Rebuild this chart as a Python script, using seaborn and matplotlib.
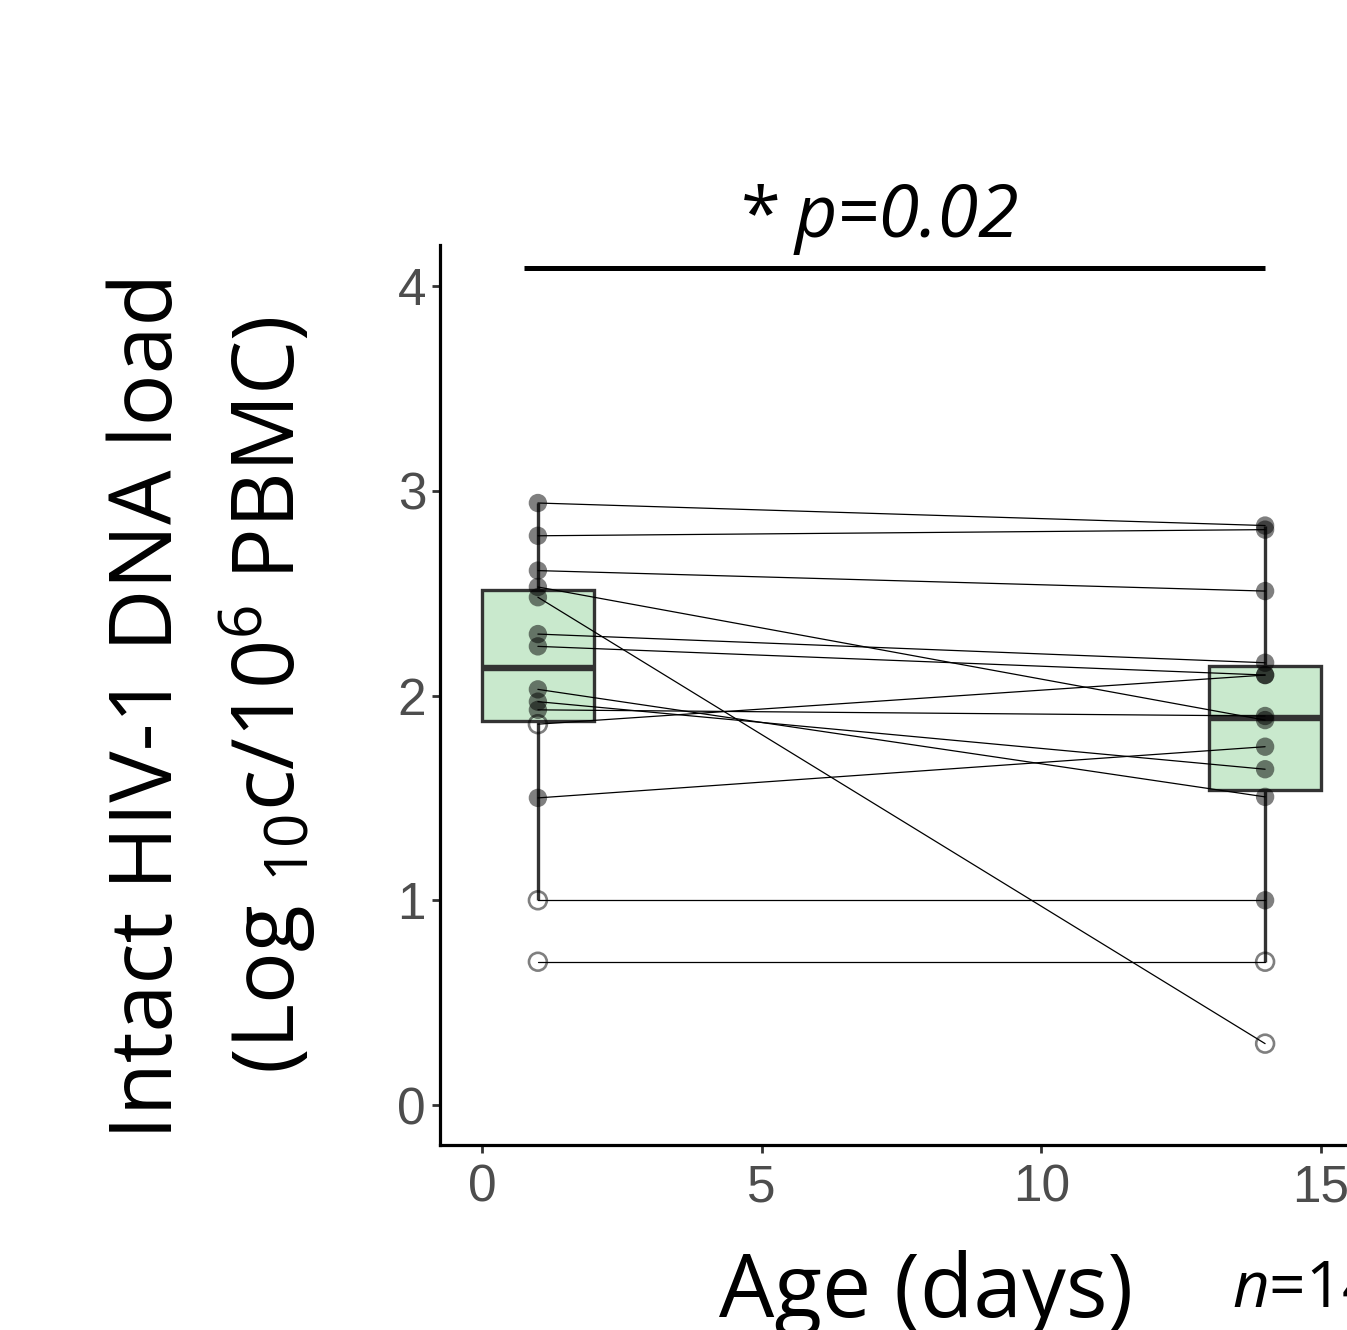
import numpy as np
import pandas as pd
import matplotlib
matplotlib.use("Agg")
import matplotlib.pyplot as plt
import seaborn as sns

# ---- data ----
days = [1, 14]
day1_values = [2.94, 2.78, 2.61, 2.53, 2.48, 2.30, 2.24, 2.03, 1.97, 1.93, 1.86, 1.50, 1.00, 0.70]
day14_values = [2.83, 2.81, 2.51, 1.88, 0.30, 2.16, 2.10, 1.505, 1.64, 1.90, 2.10, 1.75, 1.00, 0.70]
day1_censored = [False, False, False, False, False, False, False, False, False, False, True, False, True, True]
day14_censored = [False, False, False, False, True, False, False, False, False, False, False, False, False, True]
x_ticks = [0, 5, 10, 15]
y_ticks = [0, 1, 2, 3, 4]
p_label = "p=0.02"
n_label = "=14"

subjects = list(range(len(day1_values)))
df = pd.DataFrame({
    "subject": subjects * 2,
    "day": [days[0]] * len(day1_values) + [days[1]] * len(day14_values),
    "value": day1_values + day14_values,
    "censored": day1_censored + day14_censored,
})

sns.set_theme(style="ticks")
plt.rcParams["font.family"] = ["Open Sans", "DejaVu Sans"]
plt.rcParams["mathtext.fontset"] = "custom"
plt.rcParams["mathtext.rm"] = "Open Sans"
plt.rcParams["mathtext.it"] = "Open Sans:italic"

W, H = 1347, 1330
fig = plt.figure(figsize=(W / 100, H / 100), dpi=100)
ax = fig.add_axes([440 / W, 1 - 1145 / H, 923 / W, 900 / H])

# boxes
sns.boxplot(data=df, x="day", y="value", native_scale=True, width=2 / 13,
            color="#c9e9cd", saturation=1, linecolor="#333333", linewidth=2.4,
            showfliers=False, showcaps=False,
            medianprops=dict(linewidth=4.6, color="#333333"),
            whiskerprops=dict(linewidth=2.4, color="#333333"),
            boxprops=dict(zorder=1), ax=ax)

# paired lines
sns.lineplot(data=df, x="day", y="value", units="subject", estimator=None,
             color="black", linewidth=0.9, ax=ax, zorder=3, legend=False)

# points
filled = df[~df["censored"]]
hollow = df[df["censored"]]
sns.scatterplot(data=filled, x="day", y="value", s=175, color="black",
                alpha=0.5, edgecolor="none", ax=ax, zorder=4, legend=False)
sns.scatterplot(data=hollow, x="day", y="value", s=165, facecolor="none",
                edgecolor=(0, 0, 0, 0.5), linewidth=1.9, ax=ax, zorder=4, legend=False)

ax.set_xlim(-0.75, 15.75)
ax.set_ylim(-0.195, 4.2)
ax.set_xticks(x_ticks)
ax.set_yticks(y_ticks)
ax.set_xticklabels([str(t) for t in x_ticks])
ax.set_yticklabels([str(t) for t in y_ticks])
ax.set_xlabel("")
ax.set_ylabel("")
sns.despine(ax=ax)
for s in ["left", "bottom"]:
    ax.spines[s].set_linewidth(2.3)
    ax.spines[s].set_color("black")
ax.tick_params(axis="both", length=6, width=2, color="#333333",
               labelsize=37, labelcolor="#4d4d4d")
ax.tick_params(axis="x", pad=7)
ax.tick_params(axis="y", pad=4)
for lab in ax.get_xticklabels() + ax.get_yticklabels():
    lab.set_fontfamily("Liberation Sans")

# significance bar and text
ax.plot([0.75, 14.0], [4.09, 4.09], color="black", linewidth=3.6,
        clip_on=False, solid_capstyle="butt")
ax.text(4.63, 4.24, "*", fontsize=52, ha="left", va="baseline",
        color="black", clip_on=False)
ax.text(5.58, 4.24, p_label, fontsize=53, style="italic", ha="left",
        va="baseline", color="black", clip_on=False)

# labels
fig.text(926 / W, 1 - 1317 / H, "Age (days)", fontsize=63, ha="center",
         va="baseline", color="black")
fig.text(1232 / W, 1 - 1307 / H, r"$\mathit{n}$" + n_label, fontsize=46,
         ha="left", va="baseline", color="black")
fig.text(150 / W, 1 - 706 / H, "Intact HIV-1 DNA load", fontsize=62,
         rotation=90, ha="center", va="center", color="black")
fig.text(268 / W, 1 - 695 / H, r"(Log $_{10}$c/10$^{6}$ PBMC)", fontsize=62,
         rotation=90, ha="center", va="center", color="black")

fig.savefig("out.png", dpi=100)
